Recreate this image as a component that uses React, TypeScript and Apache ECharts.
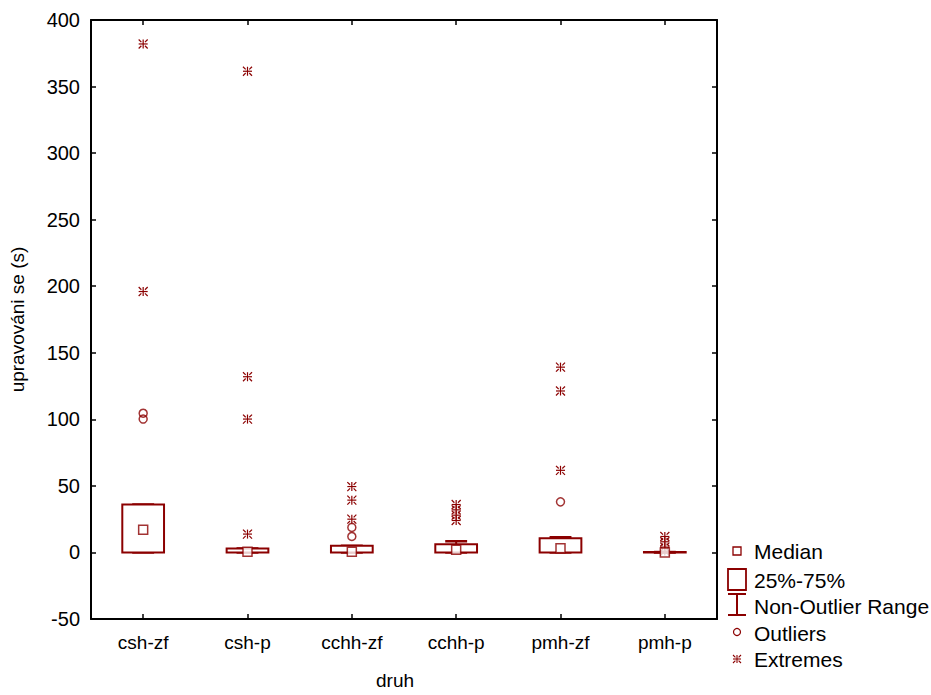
import React, { useEffect, useRef } from "react";
import * as echarts from "echarts";

const categories = ["csh-zf", "csh-p", "cchh-zf", "cchh-p", "pmh-zf", "pmh-p"];
const q1 = [0, 0, 0, 0, 0, 0];
const q3 = [36, 3, 5, 6.2, 10.7, 0.3];
const medians = [17, 0.5, 0.5, 2, 3.2, 0];
const whiskerLow = [0, 0, 0, 0, 0, 0];
const whiskerHigh = [36, 3, 5, 8.4, 11.4, 0.3];
const outliers: [number, number][] = [
  [0, 100.2], [0, 104.6], [2, 12], [2, 18.8], [4, 38],
];
const extremes: [number, number][] = [
  [0, 382], [0, 196],
  [1, 361.5], [1, 132], [1, 100.2], [1, 13.8],
  [2, 49.5], [2, 39.3], [2, 25],
  [3, 36], [3, 32], [3, 28], [3, 24],
  [4, 139.2], [4, 121.3], [4, 61.7],
  [5, 12], [5, 8], [5, 4], [5, 1],
];
const yTicks = { min: -50, max: 400, interval: 50 };

const RED = "#8b0000";
const FONT = "'Liberation Sans', Arial, sans-serif";

function asteriskLines(cx: number, cy: number, s: number, lw: number) {
  const h = s / 2;
  const d = s * 0.2;
  const segs = [
    [cx, cy - h, cx, cy + h],
    [cx - h, cy, cx + h, cy],
    [cx - h, cy - h, cx - d, cy - d],
    [cx + h, cy - h, cx + d, cy - d],
    [cx - h, cy + h, cx - d, cy + d],
    [cx + h, cy + h, cx + d, cy + d],
  ];
  return segs.map((p) => ({
    type: "line",
    shape: { x1: p[0], y1: p[1], x2: p[2], y2: p[3] },
    style: { stroke: RED, lineWidth: lw },
  }));
}

export default function App() {
  const ref = useRef<HTMLDivElement>(null);
  useEffect(() => {
    if (!ref.current) return;
    const chart = echarts.init(ref.current, undefined, { renderer: "svg" });
    const boxData = categories.map((_, i) => [i, q1[i], q3[i], whiskerLow[i], whiskerHigh[i]]);
    const medData = categories.map((_, i) => [i, medians[i]]);

    const legendX = 737;
    const textX = 754;
    const legendText = (t: string, y: number) => ({
      type: "text",
      x: textX,
      y,
      style: { text: t, fill: "#000", font: `21px ${FONT}`, textVerticalAlign: "middle", verticalAlign: "middle" },
    });

    const axisLineStyle = { show: true, onZero: false, lineStyle: { color: "#000", width: 2 } };
    const tickStyle = { color: "#000", width: 1.5 };

    const option: any = {
      animation: false,
      backgroundColor: "#fff",
      grid: { left: 91, right: 214, top: 20, bottom: 72, show: false },
      xAxis: [
        {
          type: "category",
          data: categories,
          position: "bottom",
          name: "druh",
          nameLocation: "middle",
          nameGap: 52,
          nameTextStyle: { color: "#000", fontSize: 19, fontFamily: FONT, padding: [0, 0, 0, -18] },
          axisLine: axisLineStyle,
          axisTick: { show: true, inside: true, alignWithLabel: true, length: 5, lineStyle: tickStyle },
          axisLabel: { color: "#000", fontSize: 19, fontFamily: FONT, margin: 14 },
          splitLine: { show: false },
        },
        {
          type: "category",
          data: categories,
          position: "top",
          axisLine: axisLineStyle,
          axisTick: { show: true, inside: true, alignWithLabel: true, length: 5, lineStyle: tickStyle },
          axisLabel: { show: false },
          splitLine: { show: false },
        },
      ],
      yAxis: [
        {
          type: "value",
          ...yTicks,
          position: "left",
          name: "upravováni se (s)",
          nameLocation: "middle",
          nameGap: 64,
          nameTextStyle: { color: "#000", fontSize: 19, fontFamily: FONT },
          axisLine: axisLineStyle,
          axisTick: { show: true, inside: true, length: 5, lineStyle: tickStyle },
          axisLabel: { color: "#000", fontSize: 20, fontFamily: FONT, margin: 11 },
          splitLine: { show: false },
        },
        {
          type: "value",
          ...yTicks,
          position: "right",
          axisLine: axisLineStyle,
          axisTick: { show: true, inside: true, length: 5, lineStyle: tickStyle },
          axisLabel: { show: false },
          splitLine: { show: false },
        },
      ],
      series: [
        {
          type: "custom",
          name: "box",
          data: boxData,
          encode: { x: 0, y: [1, 2, 3, 4] },
          z: 2,
          renderItem: (params: any, api: any) => {
            const x = api.value(0);
            const pQ1 = api.coord([x, api.value(1)]);
            const pQ3 = api.coord([x, api.value(2)]);
            const pLo = api.coord([x, api.value(3)]);
            const pHi = api.coord([x, api.value(4)]);
            const band = api.size([1, 0])[0];
            const w = band * 0.4;
            const cw = band * 0.21;
            const cx = pQ1[0];
            const st = { stroke: RED, lineWidth: 2 };
            return {
              type: "group",
              children: [
                { type: "line", shape: { x1: cx, y1: pQ3[1], x2: cx, y2: pHi[1] }, style: st },
                { type: "line", shape: { x1: cx - cw / 2, y1: pHi[1], x2: cx + cw / 2, y2: pHi[1] }, style: { stroke: RED, lineWidth: 2.5 } },
                { type: "line", shape: { x1: cx, y1: pQ1[1], x2: cx, y2: pLo[1] }, style: st },
                { type: "line", shape: { x1: cx - cw / 2, y1: pLo[1], x2: cx + cw / 2, y2: pLo[1] }, style: { stroke: RED, lineWidth: 2.5 } },
                {
                  type: "rect",
                  shape: { x: cx - w / 2, y: pQ3[1], width: w, height: Math.max(pQ1[1] - pQ3[1], 0) },
                  style: { fill: "#fff", stroke: RED, lineWidth: 2 },
                },
              ],
            };
          },
        },
        {
          type: "scatter",
          name: "Median",
          data: medData,
          symbol: "rect",
          symbolSize: 9,
          z: 4,
          itemStyle: { color: "#fff", borderColor: RED, borderWidth: 1.5 },
        },
        {
          type: "scatter",
          name: "Outliers",
          data: outliers,
          symbol: "circle",
          symbolSize: 8,
          z: 4,
          itemStyle: { color: "rgba(0,0,0,0)", borderColor: RED, borderWidth: 1.5 },
        },
        {
          type: "custom",
          name: "Extremes",
          data: extremes,
          encode: { x: 0, y: 1 },
          z: 4,
          renderItem: (params: any, api: any) => {
            const p = api.coord([api.value(0), api.value(1)]);
            return { type: "group", children: asteriskLines(p[0], p[1], 9, 1.2) };
          },
        },
      ],
      graphic: [
        { type: "rect", shape: { x: legendX - 4, y: 547, width: 8, height: 8 }, style: { fill: "#fff", stroke: RED, lineWidth: 1.3 } },
        legendText("Median", 551),
        { type: "rect", shape: { x: 728, y: 569, width: 18, height: 21 }, style: { fill: "#fff", stroke: RED, lineWidth: 1.8 } },
        legendText("25%-75%", 580),
        { type: "line", shape: { x1: legendX, y1: 594, x2: legendX, y2: 615 }, style: { stroke: RED, lineWidth: 2 } },
        { type: "line", shape: { x1: 728, y1: 594, x2: 746, y2: 594 }, style: { stroke: RED, lineWidth: 2 } },
        { type: "line", shape: { x1: 728, y1: 615, x2: 746, y2: 615 }, style: { stroke: RED, lineWidth: 2 } },
        legendText("Non-Outlier Range", 606),
        { type: "circle", shape: { cx: legendX, cy: 632, r: 3.5 }, style: { fill: "none", stroke: RED, lineWidth: 1.2 } },
        legendText("Outliers", 633),
        { type: "group", children: asteriskLines(legendX, 659, 8, 1.1) },
        legendText("Extremes", 659),
      ],
    };
    chart.setOption(option);
    return () => chart.dispose();
  }, []);
  return <div ref={ref} style={{ position: "absolute", left: 0, top: 0, width: 931, height: 695 }} />;
}
